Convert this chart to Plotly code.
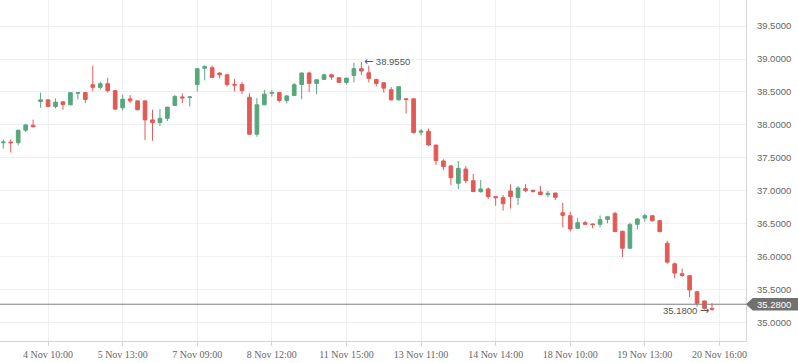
import plotly.graph_objects as go

# ---- data ----
opens = [37.73, 37.74, 37.73, 37.92, 37.995, 38.355, 38.38, 38.28, 38.35, 38.305,
         38.48, 38.49, 38.61, 38.57, 38.625, 38.52, 38.26, 38.395, 38.365, 38.365,
         38.076, 38.035, 38.10, 38.295, 38.425, 38.415, 38.614, 38.86, 38.868, 38.787,
         38.76, 38.614, 38.614, 38.42, 37.86, 38.305, 38.48, 38.49, 38.37, 38.445,
         38.614, 38.787, 38.63, 38.69, 38.76, 38.716, 38.645, 38.75, 38.853, 38.79,
         38.69, 38.64, 38.533, 38.38, 38.396, 38.396, 37.89, 37.905, 37.695, 37.453,
         37.377, 37.114, 37.331, 37.154, 36.988, 37.028, 36.912, 36.897, 36.998, 36.897,
         37.033, 37.008, 36.983, 36.942, 36.967, 36.668, 36.623, 36.431, 36.517, 36.497,
         36.492, 36.567, 36.658, 36.386, 36.129, 36.492, 36.587, 36.623, 36.547, 36.205,
         35.893, 35.742, 35.713, 35.47, 35.329, 35.215]
highs = [37.78, 37.78, 37.92, 38.015, 38.08, 38.49, 38.39, 38.40, 38.36, 38.49,
         38.49, 38.49, 38.90, 38.655, 38.715, 38.52, 38.455, 38.455, 38.365, 38.365,
         38.23, 38.24, 38.27, 38.455, 38.48, 38.43, 38.853, 38.90, 38.90, 38.80,
         38.777, 38.695, 38.65, 38.48, 38.406, 38.53, 38.53, 38.50, 38.45, 38.635,
         38.797, 38.807, 38.685, 38.777, 38.777, 38.716, 38.71, 38.94, 38.955, 38.90,
         38.70, 38.64, 38.574, 38.58, 38.396, 38.396, 37.94, 37.945, 37.695, 37.478,
         37.392, 37.453, 37.377, 37.255, 37.165, 37.053, 36.912, 36.937, 37.099, 37.073,
         37.099, 37.018, 37.073, 36.998, 36.967, 36.819, 36.683, 36.592, 36.547, 36.507,
         36.628, 36.607, 36.683, 36.396, 36.517, 36.587, 36.653, 36.623, 36.557, 36.245,
         35.913, 35.822, 35.72, 35.48, 35.335, 35.295]
lows = [37.64, 37.58, 37.69, 37.89, 37.97, 38.26, 38.28, 38.25, 38.23, 38.295,
        38.385, 38.33, 38.51, 38.54, 38.49, 38.225, 38.22, 38.33, 38.22, 37.77,
        37.76, 37.985, 38.06, 38.295, 38.33, 38.28, 38.508, 38.675, 38.72, 38.705,
        38.58, 38.508, 38.467, 37.85, 37.82, 38.30, 38.43, 38.34, 38.325, 38.445,
        38.39, 38.50, 38.467, 38.69, 38.685, 38.645, 38.614, 38.645, 38.756, 38.645,
        38.584, 38.49, 38.37, 38.37, 38.17, 37.87, 37.84, 37.68, 37.392, 37.316,
        37.089, 37.028, 37.114, 36.988, 36.972, 36.876, 36.775, 36.70, 36.73, 36.785,
        36.978, 36.972, 36.942, 36.902, 36.861, 36.446, 36.386, 36.431, 36.477, 36.431,
        36.446, 36.507, 36.381, 35.993, 36.119, 36.416, 36.532, 36.532, 36.371, 35.893,
        35.676, 35.691, 35.385, 35.243, 35.198, 35.18]
closes = [37.74, 37.73, 37.92, 38.00, 37.97, 38.38, 38.28, 38.345, 38.31, 38.49,
          38.49, 38.385, 38.57, 38.625, 38.52, 38.24, 38.39, 38.365, 38.23, 38.076,
          38.035, 38.10, 38.27, 38.43, 38.41, 38.425, 38.853, 38.888, 38.72, 38.76,
          38.614, 38.604, 38.52, 37.858, 38.305, 38.467, 38.49, 38.37, 38.44, 38.61,
          38.787, 38.63, 38.685, 38.76, 38.726, 38.645, 38.71, 38.853, 38.817, 38.705,
          38.63, 38.558, 38.38, 38.58, 38.386, 37.883, 37.905, 37.695, 37.458, 37.367,
          37.20, 37.341, 37.154, 36.988, 37.028, 36.912, 36.897, 36.805, 36.912, 37.043,
          37.003, 36.993, 36.942, 36.962, 36.902, 36.628, 36.421, 36.517, 36.492, 36.487,
          36.562, 36.607, 36.381, 36.129, 36.487, 36.572, 36.623, 36.547, 36.381, 35.918,
          35.752, 35.717, 35.496, 35.294, 35.218, 35.205]

tick_index = [6, 16, 26, 36, 46, 56, 66, 76, 86, 96]
tick_labels = ["4 Nov 10:00", "5 Nov 13:00", "7 Nov 09:00", "8 Nov 12:00", "11 Nov 15:00",
               "13 Nov 11:00", "14 Nov 14:00", "18 Nov 10:00", "19 Nov 13:00", "20 Nov 16:00"]
last_price = 35.28

GREEN = "#58a67e"
RED = "#e15b56"
GRID = "#eef0f3"
AXIS = "#d6d6d6"
TXT = "#666666"
SANS = "Liberation Sans"
ARROW_SPAN = '<span style="font-family:DejaVu Sans;font-size:11px">{}</span>'

x = list(range(len(opens)))
hi_idx = max(range(len(highs)), key=lambda i: highs[i])
lo_idx = min(range(len(lows)), key=lambda i: lows[i])

fig = go.Figure(go.Candlestick(
    x=x, open=opens, high=highs, low=lows, close=closes,
    increasing=dict(line=dict(color=GREEN, width=1), fillcolor=GREEN),
    decreasing=dict(line=dict(color=RED, width=1), fillcolor=RED),
    whiskerwidth=0, hoverinfo="skip",
))

fig.update_layout(
    width=798, height=363,
    margin=dict(l=0, r=52, t=0, b=22),
    paper_bgcolor="white", plot_bgcolor="white",
    showlegend=False,
    xaxis=dict(
        range=[-0.44, 99.56], rangeslider=dict(visible=False),
        tickmode="array", tickvals=tick_index, ticktext=tick_labels,
        showgrid=True, gridcolor=GRID, gridwidth=1,
        showline=True, linecolor=AXIS, linewidth=1,
        ticks="outside", ticklen=4, tickcolor=AXIS,
        tickfont=dict(family="Liberation Serif", size=10, color=TXT),
        zeroline=False,
    ),
    yaxis=dict(
        side="right", range=[34.722, 39.895],
        tickmode="linear", tick0=35, dtick=0.5, tickformat=".4f",
        showgrid=True, gridcolor=GRID, gridwidth=1,
        showline=True, linecolor=AXIS, linewidth=1,
        ticks="outside", ticklen=8, tickcolor="rgba(0,0,0,0)",
        tickfont=dict(family=SANS, size=9.5, color=TXT),
        zeroline=False,
    ),
)

# last-price line
fig.add_shape(type="line", xref="paper", yref="y", x0=0, x1=1, y0=last_price, y1=last_price,
              line=dict(color="#7d7d7d", width=1))
# last-price label box with pointer
h = 0.095
fig.add_shape(type="path", xref="paper", yref="y",
              path=f"M 1.0,{last_price} L 1.009,{last_price + h} L 1.07,{last_price + h} "
                   f"L 1.07,{last_price - h} L 1.009,{last_price - h} Z",
              fillcolor="#717171", line=dict(width=0), layer="above")
fig.add_annotation(xref="paper", yref="y", x=1.0, y=last_price, xanchor="left", xshift=9,
                   text=f"{last_price:.4f}", showarrow=False,
                   font=dict(family=SANS, size=9.5, color="white"))

# high / low markers
fig.add_annotation(x=hi_idx, y=highs[hi_idx], xanchor="left", xshift=1, yanchor="middle",
                   text=ARROW_SPAN.format("\u2190") + f" {highs[hi_idx]:.4f}", showarrow=False,
                   font=dict(family=SANS, size=9.5, color="#555555"))
fig.add_annotation(x=lo_idx, y=lows[lo_idx], xanchor="right", xshift=-1, yanchor="middle",
                   text=f"{lows[lo_idx]:.4f} " + ARROW_SPAN.format("\u2192"), showarrow=False,
                   font=dict(family=SANS, size=9.5, color="#555555"))

fig.write_html("out.html")
